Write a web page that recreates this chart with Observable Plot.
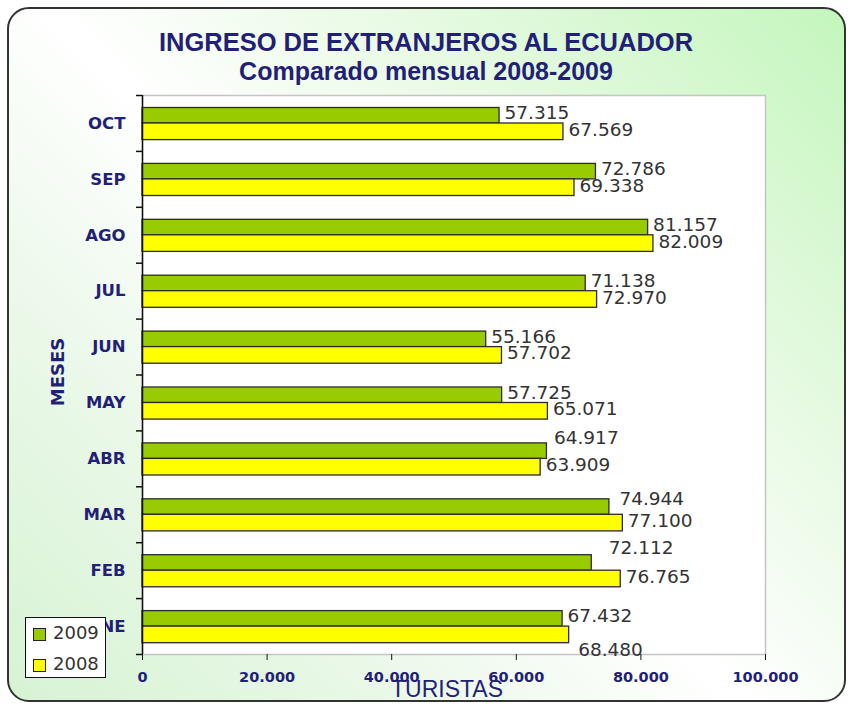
<!DOCTYPE html>
<html><head><meta charset="utf-8">
<script src="https://cdn.jsdelivr.net/npm/d3@7"></script>
<script src="https://cdn.jsdelivr.net/npm/@observablehq/plot@0.6"></script>
<style>
body{margin:0;background:#fff;}
#wrap{position:relative;width:852px;height:704px;overflow:hidden;}
#card{position:absolute;left:7px;top:7px;width:835px;height:691px;border:2px solid #333;border-radius:22px;
  background:linear-gradient(225deg,#c4f6bd 0%,#e8fae4 30%,#ffffff 52%,#eaf8e8 75%,#d6f3d3 100%);}
#chart{position:absolute;left:0;top:0;}
.ttl{position:absolute;left:0;width:852px;text-align:center;font-family:"Liberation Sans",Arial,sans-serif;font-weight:bold;color:#231f78;white-space:nowrap;}
#t1{top:28px;font-size:25.5px;}
#t2{top:57px;font-size:25px;}
#ylab{position:absolute;left:57px;top:372px;transform:translate(-50%,-50%) rotate(-90deg);font-family:"DejaVu Sans",sans-serif;font-weight:bold;font-size:18px;color:#231f78;white-space:nowrap;}
#xlab{position:absolute;left:447px;top:676px;transform:translateX(-50%);font-family:"Liberation Sans",Arial,sans-serif;font-size:23px;color:#231f78;white-space:nowrap;}
#legend{position:absolute;left:25px;top:617px;width:79px;height:59px;background:#fff;border:1.5px solid #111;}
.sw{position:absolute;left:7px;width:11px;height:11px;border:1px solid #222;}
.lt{position:absolute;left:27px;font-family:"DejaVu Sans",sans-serif;font-size:18px;color:#333;line-height:20px;}
</style></head>
<body>
<div id="wrap">
  <div id="card"></div>
  <div id="chart"></div>
  <div class="ttl" id="t1">INGRESO DE EXTRANJEROS AL ECUADOR</div>
  <div class="ttl" id="t2">Comparado mensual 2008-2009</div>
  <div id="ylab">MESES</div>
  <div id="xlab">TURISTAS</div>
  <div id="legend"></div>
</div>
<script>
// ---- data ----
const months = ["OCT","SEP","AGO","JUL","JUN","MAY","ABR","MAR","FEB","ENE"];
const values2009 = [57315,72786,81157,71138,55166,57725,64917,74944,72112,67432];
const values2008 = [67569,69338,82009,72970,57702,65071,63909,77100,76765,68480];
const xTicks = [0,20000,40000,60000,80000,100000];
const seriesNames = ["2009","2008"];
const seriesColors = ["#99cc00","#ffff00"];

// extra label nudges (px), like the original chart's collision-avoided labels
const labelNudge = {"ABR-2009":[2,-11], "MAR-2009":[5,-6], "FEB-2009":[12,-13], "ENE-2008":[4,17]};

const loc = d3.formatLocale({decimal:",", thousands:".", grouping:[3], currency:["",""]});
const fmt = loc.format(",d");

const rows09 = months.map((m,i)=>({month:m, year:seriesNames[0], value:values2009[i]}));
const rows08 = months.map((m,i)=>({month:m, year:seriesNames[1], value:values2008[i]}));

const W=852, H=704, mL=142, mR=87, mT=95, mB=50;
const bw = (H-mT-mB)/months.length;
const navy = "#231f78";
const baseDy = {"2009":-10, "2008":6.5};
const key = d => d.month + "-" + d.year;

function labelMarks(rows){
  const marks = [];
  const common = {x:"value", y:"month", text:d=>fmt(d.value), textAnchor:"start", fontSize:18.5, fontFamily:"DejaVu Sans", fill:"#333"};
  const plain = rows.filter(d => !labelNudge[key(d)]);
  marks.push(Plot.text(plain, {...common, dx:5, dy:baseDy[rows[0].year]}));
  rows.filter(d => labelNudge[key(d)]).forEach(d => {
    const [ndx, ndy] = labelNudge[key(d)];
    marks.push(Plot.text([d], {...common, dx:5+ndx, dy:baseDy[d.year]+ndy}));
  });
  return marks;
}

const chart = Plot.plot({
  width:W, height:H, marginLeft:mL, marginRight:mR, marginTop:mT, marginBottom:mB,
  style:{background:"transparent", overflow:"visible", color:navy},
  x:{domain:[0,100000], label:null},
  y:{domain:months, padding:0, round:false, label:null},
  marks:[
    Plot.frame({fill:"white", stroke:"#c4c4c4", strokeWidth:1.5}),
    Plot.barX(rows09,{x:"value", y:"month", fill:seriesColors[0], stroke:"#2b2b2b", strokeWidth:1.3, insetTop:12.5, insetBottom:bw-28}),
    Plot.barX(rows08,{x:"value", y:"month", fill:seriesColors[1], stroke:"#2b2b2b", strokeWidth:1.3, insetTop:28, insetBottom:11.3}),
    ...labelMarks(rows09),
    ...labelMarks(rows08),
    Plot.ruleX([0],{stroke:"#111", strokeWidth:1.5}),
    Plot.axisX(xTicks,{tickFormat:fmt, tickSize:6, tickPadding:11, line:true, stroke:"#111", fontSize:14.5, fontWeight:"bold", fontFamily:"DejaVu Sans", label:null}),
    Plot.axisY({tickSize:0, tickPadding:17, fontSize:16.5, fontWeight:"bold", fontFamily:"DejaVu Sans", label:null}),
    Plot.axisY({tickSize:6, tickFormat:()=>"", dy:-bw/2, stroke:"#111", strokeWidth:1.5, label:null}),
    Plot.axisY([months[months.length-1]],{tickSize:6, tickFormat:()=>"", dy:bw/2, stroke:"#111", strokeWidth:1.5, label:null})
  ]
});
document.getElementById("chart").appendChild(chart);

// legend
const lg = document.getElementById("legend");
seriesNames.forEach((s,i)=>{
  const sw = document.createElement("div");
  sw.className="sw"; sw.style.top=(10+i*31)+"px"; sw.style.background=seriesColors[i];
  const t = document.createElement("div");
  t.className="lt"; t.style.top=(5+i*31)+"px"; t.textContent=s;
  lg.appendChild(sw); lg.appendChild(t);
});
</script>
</body></html>
